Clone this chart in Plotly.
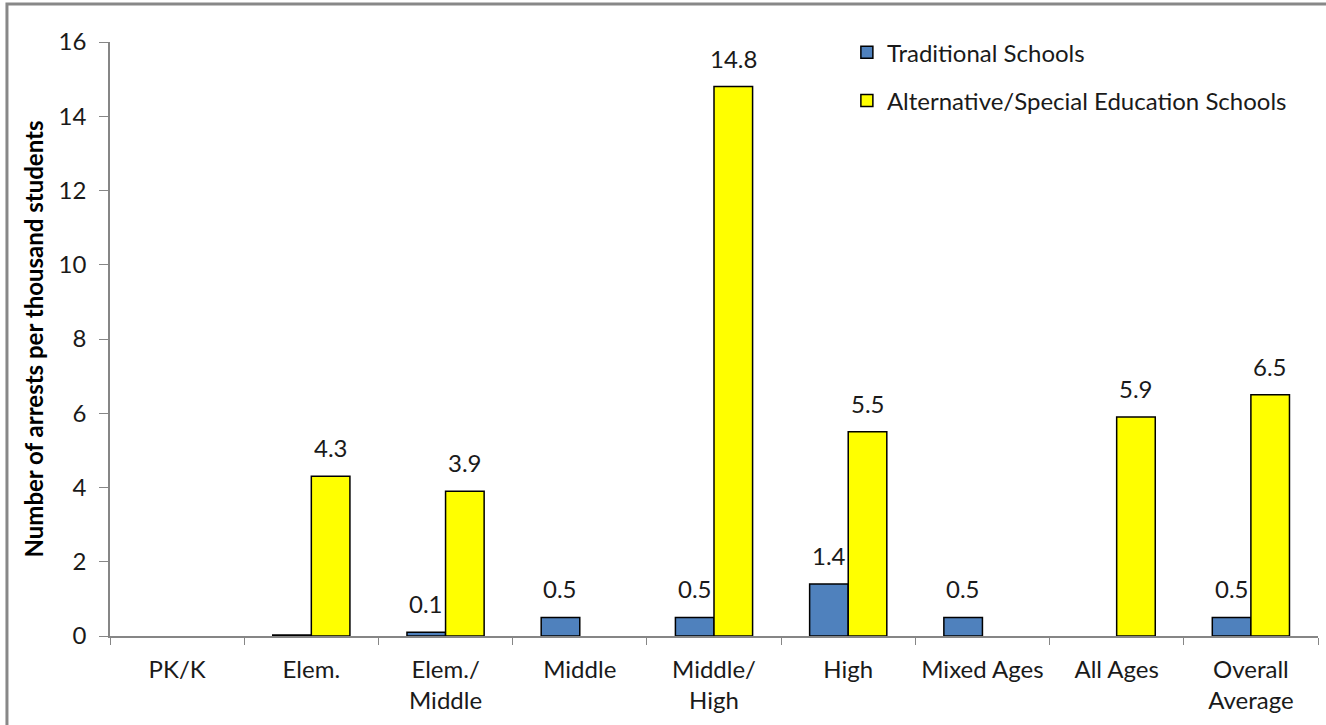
import plotly.graph_objects as go

# Arrest rates per thousand students, by school grade span
categories = ["PK/K", "Elem.", "Elem./<br>Middle", "Middle", "Middle/<br>High",
              "High", "Mixed Ages", "All Ages", "Overall<br>Average"]
traditional = [None, 0.03, 0.1, 0.5, 0.5, 1.4, 0.5, None, 0.5]
alternative = [None, 4.3, 3.9, None, 14.8, 5.5, None, 5.9, 6.5]
traditional_labels = ["", "", "0.1", "0.5", "0.5", "1.4", "0.5", "", "0.5"]
alternative_labels = ["", "4.3", "3.9", "", "14.8", "5.5", "", "5.9", "6.5"]
y_ticks = [0, 2, 4, 6, 8, 10, 12, 14, 16]

FONT = "Lato"
SIZE = 24
TEXT_COLOR = "#1a1a1a"
AXIS_COLOR = "#868686"

fig = go.Figure()
fig.add_trace(go.Bar(
    x=categories, y=traditional, name="Traditional Schools",
    marker=dict(color="#4F81BD", line=dict(color="#000000", width=1.5)),
    legendgroup="a",
))
fig.add_trace(go.Bar(
    x=categories, y=alternative, name="Alternative/Special Education Schools",
    marker=dict(color="#FFFF00", line=dict(color="#000000", width=1.5)),
    legendgroup="b",
))

# Value labels sitting above each bar
annotations = []
for offset, vals, labels in ((-0.5, traditional, traditional_labels),
                             (0.5, alternative, alternative_labels)):
    for i, (v, lab) in enumerate(zip(vals, labels)):
        if not lab:
            continue
        annotations.append(dict(
            x=i + offset * 0.2875, y=v, xref="x", yref="y",
            text=lab, showarrow=False, yanchor="bottom", yshift=12,
            font=dict(family=FONT, size=SIZE, color=TEXT_COLOR),
        ))

fig.update_layout(
    width=1326, height=725,
    margin=dict(l=110, r=8, t=42, b=89),
    paper_bgcolor="white", plot_bgcolor="white",
    barmode="group", bargap=0.425, bargroupgap=0,
    font=dict(family=FONT, size=SIZE, color=TEXT_COLOR),
    showlegend=True,
    legend=dict(
        x=0.61, y=1.02, xanchor="left", yanchor="top",
        traceorder="grouped", tracegroupgap=14,
        font=dict(family=FONT, size=SIZE, color=TEXT_COLOR),
        bgcolor="rgba(0,0,0,0)",
    ),
    annotations=annotations,
    shapes=[dict(
        type="rect", xref="paper", yref="paper",
        x0=-0.0853, y0=-0.4, x1=1.2, y1=1.064,
        line=dict(color="#888888", width=3), fillcolor="rgba(0,0,0,0)",
        layer="below",
    )],
)
fig.update_xaxes(
    type="category", tickson="boundaries", ticks="outside", ticklen=7,
    tickcolor=AXIS_COLOR, showline=True, linecolor=AXIS_COLOR, linewidth=1.5,
    showgrid=False, tickfont=dict(family=FONT, size=SIZE, color=TEXT_COLOR),
    ticklabelstandoff=11, range=[-0.5, 8.5],
)
fig.update_yaxes(
    range=[0, 16], tickvals=y_ticks, ticks="outside", ticklen=9,
    tickcolor=AXIS_COLOR, showline=True, linecolor=AXIS_COLOR, linewidth=1.5,
    showgrid=False, zeroline=False, ticklabelstandoff=8,
    tickfont=dict(family=FONT, size=SIZE, color=TEXT_COLOR),
    title=dict(text="<b>Number of arrests per thousand students</b>",
               font=dict(family=FONT, size=SIZE, color="#000000"), standoff=8),
)

fig.write_html("out.html")
